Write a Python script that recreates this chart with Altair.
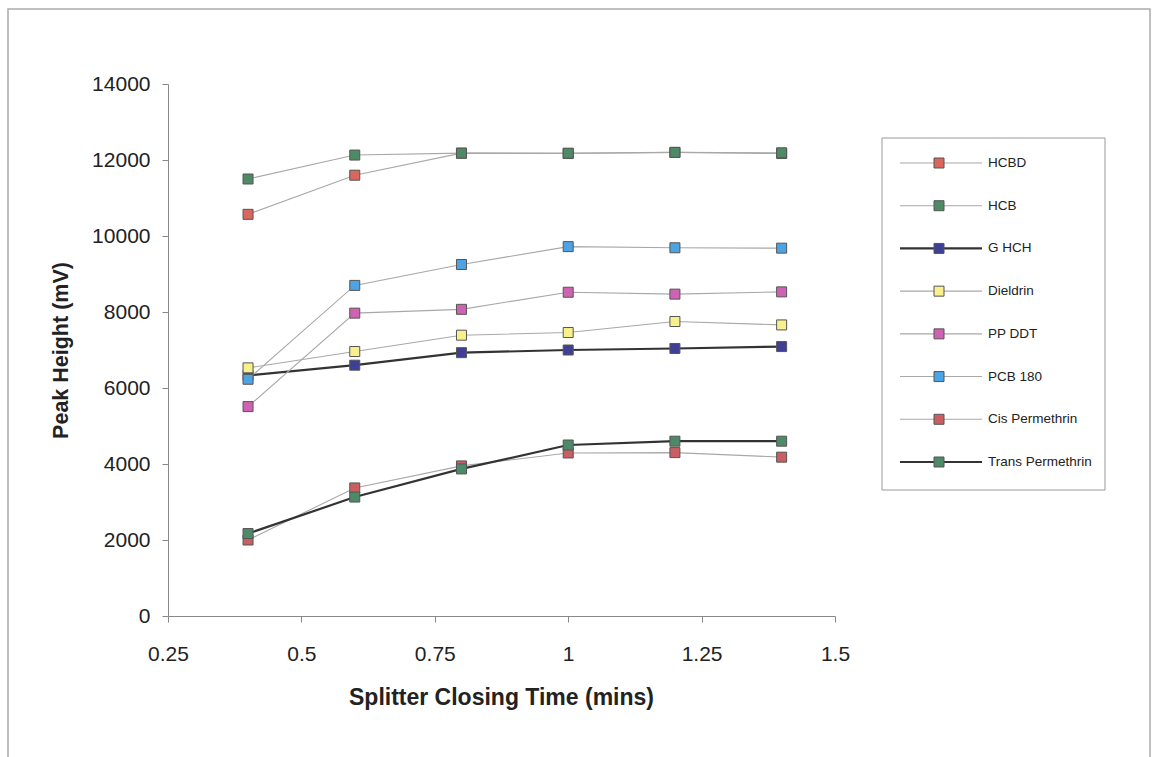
import altair as alt
import pandas as pd

SERIES = ["HCBD", "HCB", "GHCH", "Dieldrin", "PP DDT", "PCB 180", "Cis Permethrin", "Trans Permethrin"]
LABELS = ["HCBD", "HCB", "G HCH", "Dieldrin", "PP DDT", "PCB 180", "Cis Permethrin", "Trans Permethrin"]
COLORS = ["#d9675e", "#4f8a67", "#3f3f96", "#f7f08c", "#cf63b3", "#4da3e3", "#c95f63", "#4d8a68"]
THICK = ["GHCH", "Trans Permethrin"]

TIMES = [0.4, 0.6, 0.8, 1.0, 1.2, 1.4]
HCBD = [10570, 11600, 12180, 12170, 12200, 12170]
HCB = [11500, 12130, 12180, 12180, 12200, 12190]
GHCH = [6330, 6600, 6930, 7000, 7040, 7090]
DIELDRIN = [6530, 6960, 7390, 7460, 7750, 7660]
PPDDT = [5510, 7970, 8070, 8520, 8470, 8530]
PCB180 = [6230, 8700, 9250, 9720, 9690, 9680]
CIS = [2000, 3370, 3950, 4290, 4300, 4180]
TRANS = [2170, 3130, 3870, 4500, 4600, 4600]

X_TICKS = [0.25, 0.5, 0.75, 1.0, 1.25, 1.5]
Y_TICKS = [0, 2000, 4000, 6000, 8000, 10000, 12000, 14000]

values = [HCBD, HCB, GHCH, DIELDRIN, PPDDT, PCB180, CIS, TRANS]
rows = []
for s, vals in zip(SERIES, values):
    for t, v in zip(TIMES, vals):
        rows.append({"series": s, "time": t, "peak": v})
df = pd.DataFrame(rows)
leg = pd.DataFrame({"series": SERIES, "label": LABELS})
one = pd.DataFrame({"a": [0]})

FONT = "Liberation Sans"
thick_pred = alt.FieldOneOfPredicate(field="series", oneOf=THICK)
color_scale = alt.Scale(domain=SERIES, range=COLORS)

x_enc = alt.X("time:Q", scale=alt.Scale(domain=[0.25, 1.5], nice=False, zero=False),
              axis=alt.Axis(values=X_TICKS, labelExpr="'' + datum.value", labelFlush=False,
                            title="Splitter Closing Time (mins)",
                            grid=False, labelFont=FONT, labelFontSize=21, labelColor="#222",
                            labelPadding=21, tickSize=6, tickColor="#888", domainColor="#888",
                            titleFont=FONT, titleFontWeight="bold", titleFontSize=23,
                            titleColor="#222", titleX=333, titleY=81, titleBaseline="middle"))
y_enc = alt.Y("peak:Q", scale=alt.Scale(domain=[0, 14000], nice=False),
              axis=alt.Axis(values=Y_TICKS, format="d", title="Peak Height (mV)", grid=False,
                            labelFont=FONT, labelFontSize=21, labelColor="#222", labelPadding=12,
                            tickSize=6, tickColor="#888", domainColor="#888",
                            titleFont=FONT, titleFontWeight="bold", titleFontSize=21.5,
                            titleColor="#222", titleX=-107, titleY=266, titleBaseline="middle",
                            titleAlign="center", titleAngle=270))

border = alt.Chart(one).mark_rect(fillOpacity=0, stroke="#aaaaaa", strokeWidth=1.5).encode(
    x=alt.value(-160), x2=alt.value(982), y=alt.value(-75), y2=alt.value(690))

lines = alt.Chart(df).mark_line(interpolate="linear").encode(
    x=x_enc, y=y_enc, detail="series:N",
    stroke=alt.when(thick_pred).then(alt.value("#333333")).otherwise(alt.value("#a8a8a8")),
    strokeWidth=alt.when(thick_pred).then(alt.value(2.2)).otherwise(alt.value(1.1)),
)
points = alt.Chart(df).mark_square(size=100, filled=True, opacity=1, stroke="#555555", strokeWidth=1).encode(
    x="time:Q", y="peak:Q",
    color=alt.Color("series:N", scale=color_scale, legend=None),
)

leg_y = alt.Y("series:N", scale=alt.Scale(type="point", domain=SERIES, range=[79, 378], padding=0), axis=None)
leg_box = alt.Chart(one).mark_rect(fill="white", stroke="#999999", strokeWidth=1).encode(
    x=alt.value(714), x2=alt.value(937), y=alt.value(54), y2=alt.value(406))
leg_lines = alt.Chart(leg).mark_rule().encode(
    x=alt.value(732), x2=alt.value(814), y=leg_y,
    stroke=alt.when(thick_pred).then(alt.value("#333333")).otherwise(alt.value("#a8a8a8")),
    strokeWidth=alt.when(thick_pred).then(alt.value(2.2)).otherwise(alt.value(1.1)),
)
leg_pts = alt.Chart(leg).mark_square(size=100, filled=True, opacity=1, stroke="#555555", strokeWidth=1).encode(
    x=alt.value(771), y=leg_y, color=alt.Color("series:N", scale=color_scale, legend=None))
leg_text = alt.Chart(leg).mark_text(align="left", baseline="middle", font=FONT, fontSize=13.5, color="#222").encode(
    x=alt.value(820), y=leg_y, text="label:N")

main = alt.layer(border, lines, points)
legend = alt.layer(leg_box, leg_lines, leg_pts, leg_text)

chart = alt.layer(main, legend).resolve_scale(y="independent").properties(
    width=667, height=532,
    autosize=alt.AutoSizeParams(type="none"),
    padding={"left": 168, "top": 84, "right": 320, "bottom": 141},
    background="white",
).configure_view(strokeWidth=0)

chart.save("out.html", embed_options={"renderer": "svg", "actions": False})
